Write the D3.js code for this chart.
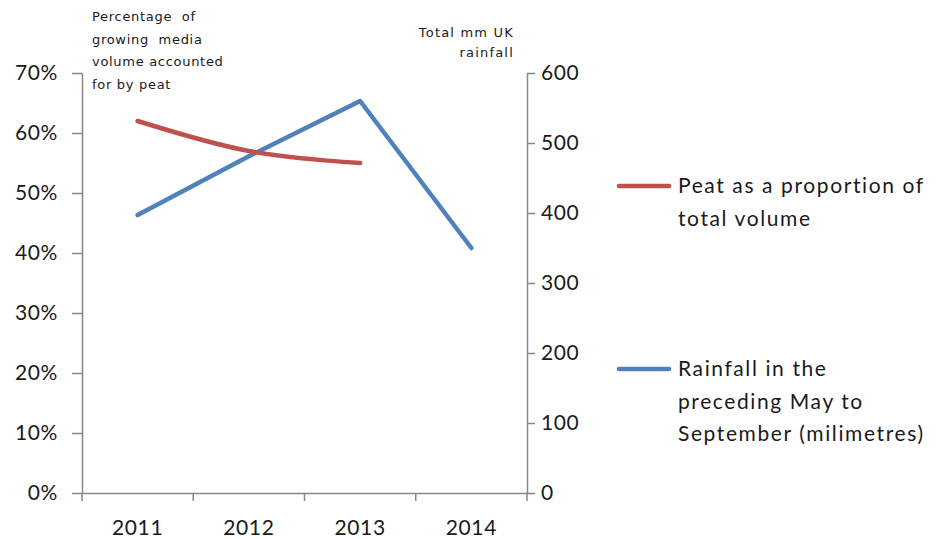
<!DOCTYPE html>
<html>
<head>
<meta charset="utf-8">
<script src="https://cdn.jsdelivr.net/npm/d3@7"></script>
<style>
  html, body { margin: 0; padding: 0; background: #fff; }
  svg { display: block; }
  text { white-space: pre; }
</style>
</head>
<body>
<svg id="chart" width="938" height="539"></svg>
<script>
// Years on the category axis
const years = ["2011", "2012", "2013", "2014"];
// Peat share of growing media volume (%), no value for 2014
const peatShare = [62, 57, 55, null];
// Rainfall in the preceding May to September (mm)
const rainfall = [397, 481, 560, 350];
// Axis tick values
const leftTicks = [0, 10, 20, 30, 40, 50, 60, 70];
const rightTicks = [0, 100, 200, 300, 400, 500, 600];
// Legend labels (wrapped lines)
const peatLabel = ["Peat as a proportion of", "total volume"];
const rainLabel = ["Rainfall in the", "preceding May to", "September (milimetres)"];
// Axis titles
const leftTitle = ["Percentage  of", "growing  media", "volume accounted", "for by peat"];
const rightTitle = ["Total mm UK", "rainfall"];

const svg = d3.select("#chart");
const plot = { left: 82, right: 527, top: 73, bottom: 493 };
const font = "Lato, 'Open Sans', sans-serif";
const axisColor = "#878787";
const textColor = "#1a1a1a";
const peatColor = "#C0504D";
const rainColor = "#4F81BD";

const x = d3.scaleBand().domain(years).range([plot.left, plot.right]).padding(0);
const xc = d => x(d) + x.bandwidth() / 2;
const yL = d3.scaleLinear().domain([0, 70]).range([plot.bottom, plot.top]);
const yR = d3.scaleLinear().domain([0, 600]).range([plot.bottom, plot.top]);

function styleAxis(g) {
  g.select(".domain").attr("stroke", axisColor).attr("stroke-width", 1.5);
  g.selectAll(".tick line").attr("stroke", axisColor).attr("stroke-width", 1.5);
  g.selectAll(".tick text").attr("fill", textColor).style("font-family", font)
    .style("font-size", "21px").style("letter-spacing", "0.6px");
}

// Left axis (percent)
svg.append("g")
  .attr("transform", `translate(${plot.left},0)`)
  .call(d3.axisLeft(yL).tickValues(leftTicks).tickSize(10).tickSizeOuter(0).tickPadding(14)
    .tickFormat(d => d + "%"))
  .call(styleAxis);

// Right axis (mm)
svg.append("g")
  .attr("transform", `translate(${plot.right},0)`)
  .call(d3.axisRight(yR).tickValues(rightTicks).tickSize(8).tickSizeOuter(0).tickPadding(6))
  .call(styleAxis);

// Bottom axis: labels centred in each band, tick marks on band edges
const xAxis = svg.append("g")
  .attr("transform", `translate(0,${plot.bottom})`)
  .call(d3.axisBottom(x).tickSize(0).tickSizeOuter(0).tickPadding(26))
  .call(styleAxis);
xAxis.selectAll(".tick text").attr("dy", "0.32em").attr("y", 35);
const edges = years.map(d => x(d)).concat([plot.right]);
xAxis.selectAll("line.edge").data(edges).join("line")
  .attr("class", "edge")
  .attr("x1", d => d).attr("x2", d => d)
  .attr("y1", 0).attr("y2", 8)
  .attr("stroke", axisColor).attr("stroke-width", 1.5);

// Series lines
const peatPts = years.map((d, i) => [d, peatShare[i]]).filter(p => p[1] !== null);
const rainPts = years.map((d, i) => [d, rainfall[i]]);

svg.append("path")
  .datum(rainPts)
  .attr("fill", "none")
  .attr("stroke", rainColor)
  .attr("stroke-width", 4.5)
  .attr("stroke-linejoin", "round")
  .attr("stroke-linecap", "round")
  .attr("d", d3.line().x(p => xc(p[0])).y(p => yR(p[1])));

svg.append("path")
  .datum(peatPts)
  .attr("fill", "none")
  .attr("stroke", peatColor)
  .attr("stroke-width", 4.5)
  .attr("stroke-linecap", "round")
  .attr("d", d3.line().curve(d3.curveCatmullRom.alpha(0.5)).x(p => xc(p[0])).y(p => yL(p[1])));

// Axis titles
const titleFont = "'DejaVu Sans', Verdana, sans-serif";
svg.append("text")
  .attr("y", 21)
  .style("font-family", titleFont).style("font-size", "13px").style("letter-spacing", "0.7px")
  .attr("fill", textColor)
  .selectAll("tspan").data(leftTitle).join("tspan")
  .attr("x", 92).attr("dy", (d, i) => i ? 22.5 : 0)
  .text(d => d);

svg.append("text")
  .attr("text-anchor", "end")
  .attr("y", 37)
  .style("font-family", titleFont).style("font-size", "13px").style("letter-spacing", "1.2px")
  .attr("fill", textColor)
  .selectAll("tspan").data(rightTitle).join("tspan")
  .attr("x", 514).attr("dy", (d, i) => i ? 20 : 0)
  .text(d => d);

// Legend
const legend = [
  { color: peatColor, lines: peatLabel, y: 186 },
  { color: rainColor, lines: rainLabel, y: 369 }
];
const lg = svg.append("g").selectAll("g").data(legend).join("g");
lg.append("line")
  .attr("x1", 619).attr("x2", 669)
  .attr("y1", d => d.y).attr("y2", d => d.y)
  .attr("stroke", d => d.color).attr("stroke-width", 4.5).attr("stroke-linecap", "round");
lg.append("text")
  .attr("y", d => d.y)
  .style("font-family", font).style("font-size", "21px").style("letter-spacing", "1.6px")
  .attr("fill", textColor)
  .selectAll("tspan").data(d => d.lines).join("tspan")
  .attr("x", 678).attr("dy", (d, i) => i ? 32.5 : "0.35em")
  .text(d => d);
</script>
</body>
</html>
